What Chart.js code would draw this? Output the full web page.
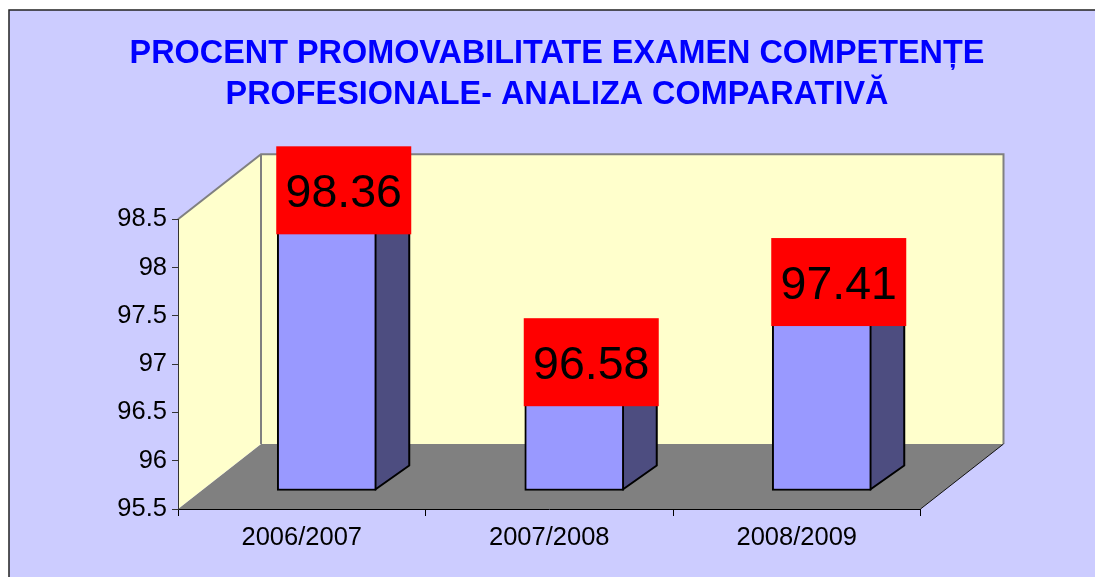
<!DOCTYPE html>
<html>
<head>
<meta charset="utf-8">
<title>Procent promovabilitate</title>
<script src="https://cdn.jsdelivr.net/npm/chart.js@4"></script>
<style>
  html, body { margin: 0; padding: 0; background: #fff; overflow: hidden; }
  canvas { display: block; }
</style>
</head>
<body>
<canvas id="chart" width="1095" height="577"></canvas>
<script>
const titleLines = ["PROCENT PROMOVABILITATE EXAMEN COMPETENȚE", "PROFESIONALE- ANALIZA COMPARATIVĂ"]
const categories = ["2006/2007", "2007/2008", "2008/2009"]
const values = [98.36, 96.58, 97.41]
const axisMin = 95.5
const axisMax = 98.5
const axisStep = 0.5

// fake 3d: how far the back wall sits from the axes, and the bars inside that box
const wallDepth = {x: 83, y: -65}
const barShift = {x: 25, y: -18}
const barDepth = {x: 34, y: -25}

const fake3d = {
  id: "fake3d",
  // walls go here so the axes get painted on top of them
  beforeDraw(chart) {
    const {ctx, chartArea: a, width, height} = chart
    ctx.save()
    ctx.fillStyle = "#fff"
    ctx.fillRect(0, 0, width, height)
    ctx.fillStyle = "#CCCCFF"
    ctx.fillRect(9, 10, width, height)
    ctx.strokeStyle = "#222"
    ctx.lineWidth = 1.5
    ctx.beginPath()
    ctx.moveTo(9, height)
    ctx.lineTo(9, 10)
    ctx.lineTo(width, 10)
    ctx.stroke()

    const bx = wallDepth.x, by = wallDepth.y
    poly(ctx, [[a.left, a.bottom], [a.right, a.bottom], [a.right + bx, a.bottom + by], [a.left + bx, a.bottom + by]], "#808080")
    poly(ctx, [[a.left, a.top], [a.left + bx, a.top + by], [a.left + bx, a.bottom + by], [a.left, a.bottom]], "#FFFFCC")
    poly(ctx, [[a.left + bx, a.top + by], [a.right + bx, a.top + by], [a.right + bx, a.bottom + by], [a.left + bx, a.bottom + by]], "#FFFFCC")

    ctx.strokeStyle = "#808080"
    ctx.lineWidth = 2
    ctx.beginPath()
    ctx.moveTo(a.left, a.top)
    ctx.lineTo(a.left + bx, a.top + by)
    ctx.lineTo(a.right + bx, a.top + by)
    ctx.lineTo(a.right + bx, a.bottom + by)
    ctx.moveTo(a.left + bx, a.top + by)
    ctx.lineTo(a.left + bx, a.bottom + by)
    ctx.stroke()

    ctx.strokeStyle = "#111"
    ctx.lineWidth = 1
    ctx.beginPath()
    ctx.moveTo(a.right, a.bottom)
    ctx.lineTo(a.right + bx, a.bottom + by)
    ctx.stroke()
    ctx.restore()
  },
  beforeDatasetDraw(chart, args) {
    const ctx = chart.ctx
    ctx.save()
    ctx.translate(barShift.x, barShift.y)
    ctx.strokeStyle = "#000"
    ctx.lineWidth = 2
    ctx.lineJoin = "round"
    args.meta.data.forEach(bar => {
      const r = bar.x + bar.width / 2 - 1
      const l = bar.x - bar.width / 2 + 1
      const dx = barDepth.x, dy = barDepth.y
      poly(ctx, [[r, bar.y], [r + dx, bar.y + dy], [r + dx, bar.base + dy], [r, bar.base - 1]], "#4D4D80", true)
      poly(ctx, [[l, bar.y], [l + dx, bar.y + dy], [r + dx, bar.y + dy], [r, bar.y]], "#7A7ACC", true)
    })
  },
  afterDatasetDraw(chart) {
    chart.ctx.restore()
  },
  // red value boxes sit over the bar tops
  afterDatasetsDraw(chart) {
    const ctx = chart.ctx
    const meta = chart.getDatasetMeta(0)
    ctx.save()
    ctx.font = "46.5px 'Liberation Sans'"
    ctx.textAlign = "center"
    ctx.textBaseline = "middle"
    meta.data.forEach((bar, i) => {
      const cx = bar.x + barShift.x + barDepth.x / 2
      const cy = bar.y + barShift.y - 24.5
      ctx.fillStyle = "#FF0000"
      ctx.fillRect(cx - 67.5, cy - 44, 135, 88)
      ctx.fillStyle = "#000"
      ctx.fillText(values[i].toFixed(2), cx, cy + 4)
    })
    ctx.restore()
  }
}

function poly(ctx, pts, fill, stroke) {
  ctx.beginPath()
  pts.forEach((p, i) => i ? ctx.lineTo(p[0], p[1]) : ctx.moveTo(p[0], p[1]))
  ctx.closePath()
  ctx.fillStyle = fill
  ctx.fill()
  if (stroke) ctx.stroke()
}

new Chart("chart", {
  type: "bar",
  data: {
    labels: categories,
    datasets: [{
      data: values,
      base: axisMin,
      backgroundColor: "#9999FF",
      borderColor: "#000",
      borderWidth: 2,
      borderSkipped: false,
      barThickness: 99
    }]
  },
  plugins: [fake3d],
  options: {
    responsive: false,
    animation: false,
    // left padding nudges the centred title over to where it sits in the original
    layout: {padding: {left: 19, right: 0, top: 0, bottom: 0}},
    plugins: {
      legend: {display: false},
      tooltip: {enabled: false},
      title: {
        display: true,
        text: titleLines,
        color: "#0000FF",
        font: {family: "'Liberation Sans'", size: 32.4, weight: "bold", lineHeight: 1.27},
        padding: {top: 33, bottom: 104}
      }
    },
    scales: {
      x: {
        afterFit(scale) { scale.height = 68 },
        grid: {drawOnChartArea: false, color: "#000", tickLength: 7},
        border: {color: "#000", width: 1},
        ticks: {color: "#000", font: {family: "'Liberation Sans'", size: 25.5}, padding: 7, maxRotation: 0}
      },
      y: {
        min: axisMin,
        max: axisMax,
        afterFit(scale) { scale.width = 159 },
        grid: {drawOnChartArea: false, color: "#333", tickLength: 6},
        border: {color: "#333", width: 1},
        ticks: {
          stepSize: axisStep,
          color: "#000",
          font: {family: "'Liberation Sans'", size: 25.5},
          padding: 5,
          callback: v => String(v)
        }
      },
      // empty axis, only keeps the room to the right of the plot
      spacer: {
        position: "right",
        afterFit(scale) { scale.width = 174.5 },
        grid: {display: false},
        border: {display: false},
        ticks: {display: false}
      }
    }
  }
})
</script>
</body>
</html>
